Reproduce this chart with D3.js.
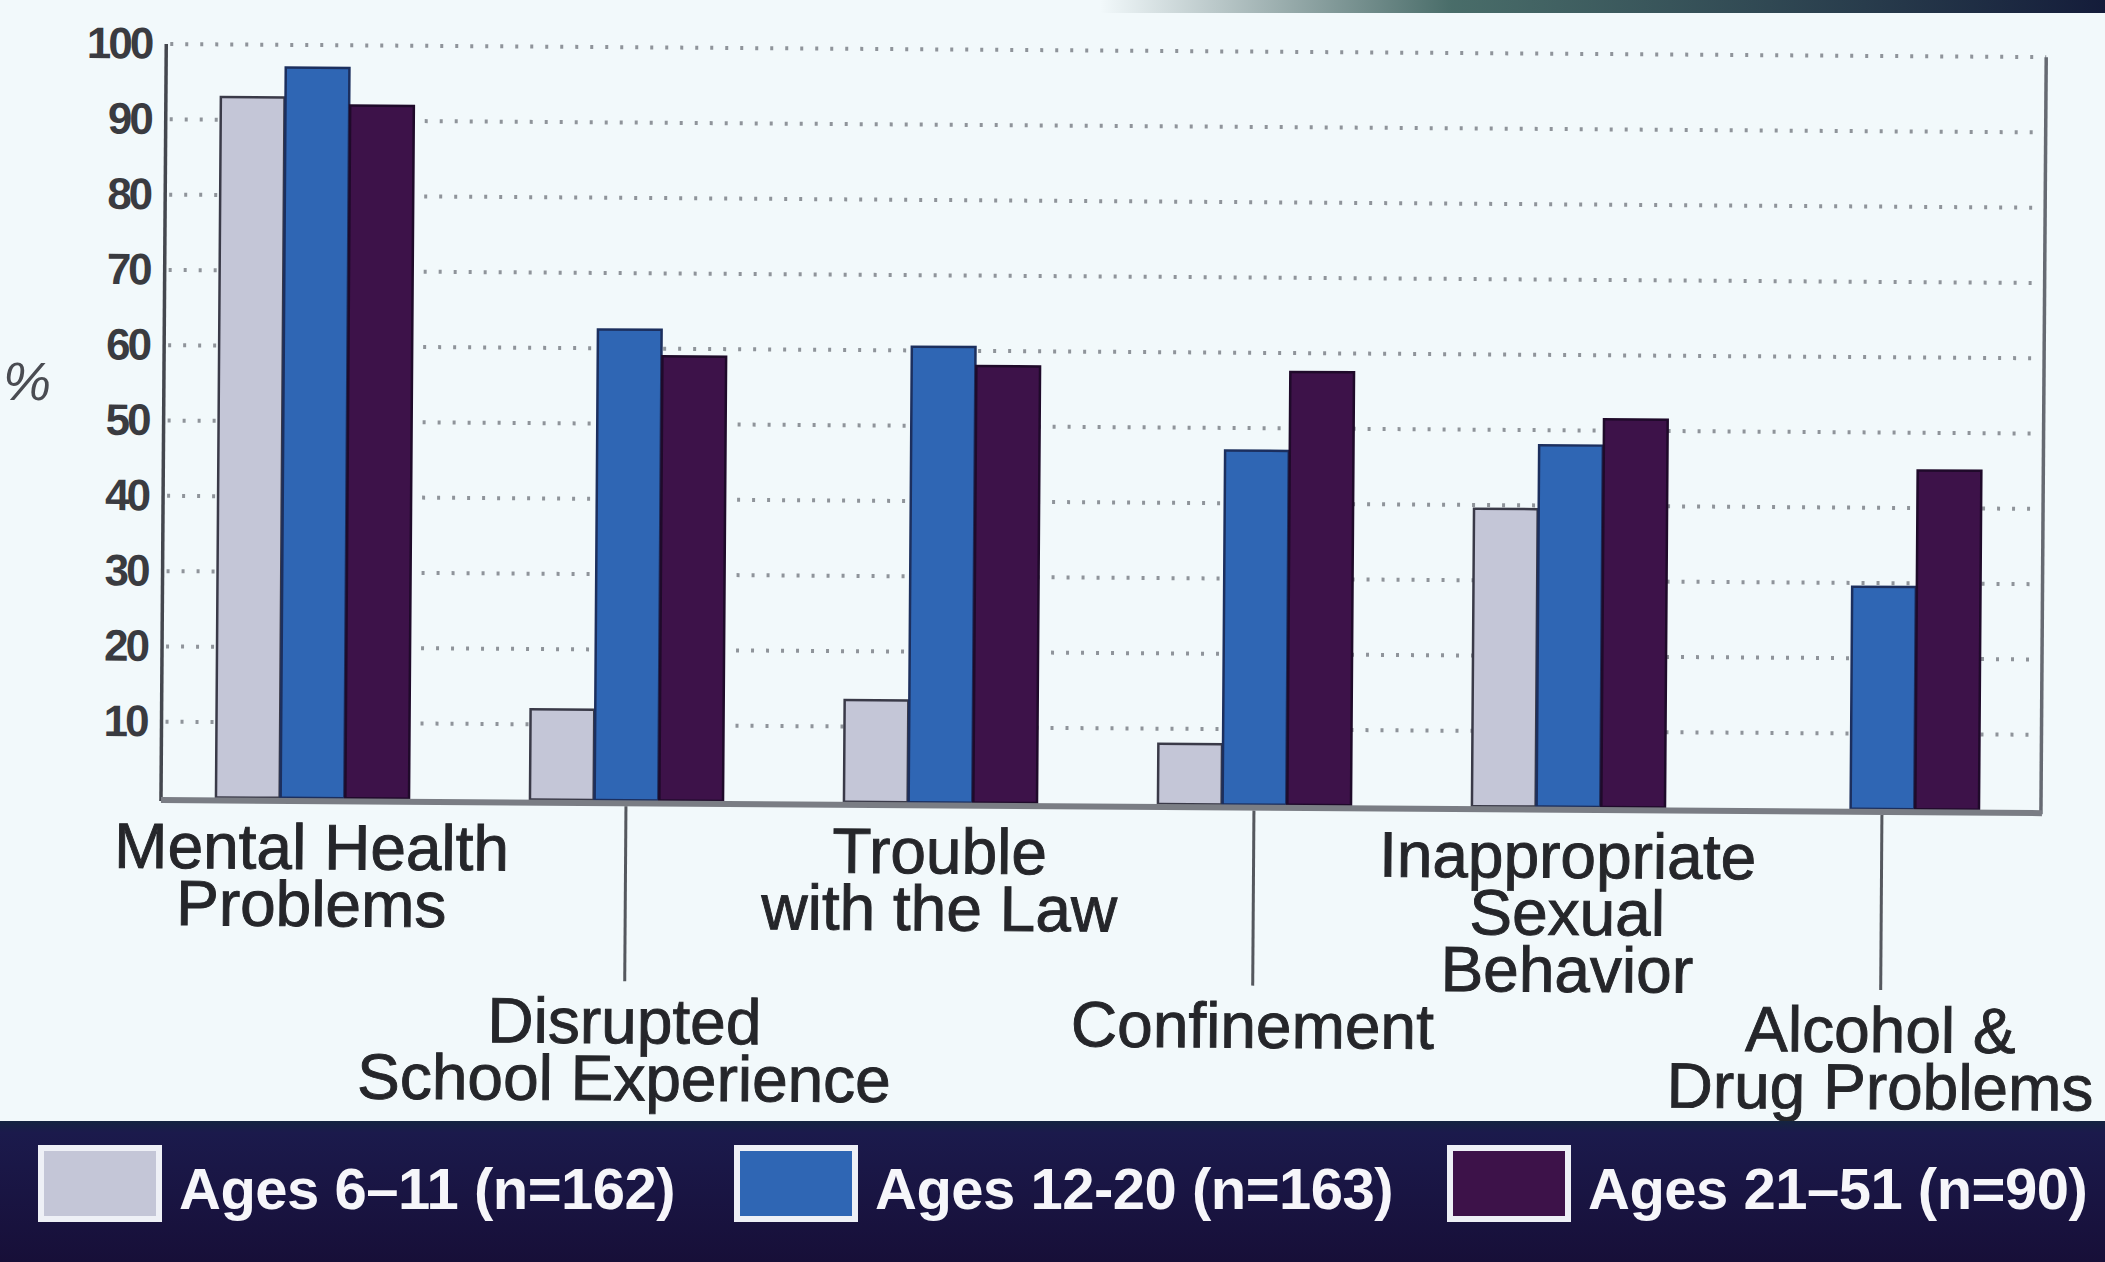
<!DOCTYPE html>
<html>
<head>
<meta charset="utf-8">
<script src="https://cdn.jsdelivr.net/npm/d3@7"></script>
<style>
  html, body { margin: 0; padding: 0; background: #f2f9fb; }
  svg { display: block; }
</style>
</head>
<body>
<svg id="chart" width="2105" height="1262"></svg>
<script>
// Problem areas by age group (percent of each group)
const categories = [
  ["Mental Health", "Problems"],
  ["Disrupted", "School Experience"],
  ["Trouble", "with the Law"],
  ["Confinement"],
  ["Inappropriate", "Sexual", "Behavior"],
  ["Alcohol &", "Drug Problems"]
];
const seriesNames = ["Ages 6\u201311 (n=162)", "Ages 12-20 (n=163)", "Ages 21\u201351 (n=90)"];
const ages6to11  = [93, 12, 13.5, 8, 39.5, 0];
const ages12to20 = [97, 62.5, 60.5, 47, 48, 29.5];
const ages21to51 = [92, 59, 58, 57.5, 51.5, 45];
const yTicks = [10, 20, 30, 40, 50, 60, 70, 80, 90, 100];

const seriesValues = [ages6to11, ages12to20, ages21to51];
const fills   = ["#c4c6d7", "#2f66b4", "#3d1249"];
const strokes = ["#3a3a48", "#1c2f5e", "#1f0a2a"];

const W = 2105, H = 1262;
const svg = d3.select("#chart");

// slide background and top edge shading
const defs = svg.append("defs");
const topGrad = defs.append("linearGradient").attr("id", "topEdge");
topGrad.append("stop").attr("offset", "0%").attr("stop-color", "#1d3a3a").attr("stop-opacity", 0);
topGrad.append("stop").attr("offset", "35%").attr("stop-color", "#1f4a45").attr("stop-opacity", 0.8);
topGrad.append("stop").attr("offset", "100%").attr("stop-color", "#141c3a").attr("stop-opacity", 1);
svg.append("rect").attr("width", W).attr("height", H).attr("fill", "#f2f9fb");
svg.append("rect").attr("x", 1100).attr("y", 0).attr("width", W - 1100).attr("height", 13)
  .attr("fill", "url(#topEdge)");

// chart group (slightly tilted as on the slide)
const x0 = 161, yBase = 797;
const g = svg.append("g").attr("transform", `rotate(0.4, ${x0}, ${yBase})`);

const x = d3.scaleBand()
  .domain(d3.range(categories.length))
  .range([155, 2039])
  .paddingInner(0.382)
  .paddingOuter(0.191);
const xSub = d3.scaleBand().domain(d3.range(seriesNames.length)).range([0, x.bandwidth()]);
const y = d3.scaleLinear().domain([0, 100]).range([yBase, 44]);
const xRight = 2041;

// dotted gridlines
g.append("g").selectAll("line").data(yTicks).join("line")
  .attr("x1", x0 + 4).attr("x2", xRight)
  .attr("y1", d => y(d)).attr("y2", d => y(d))
  .attr("stroke", "#8f949a").attr("stroke-width", 4)
  .attr("stroke-dasharray", "3 12");

// y axis labels via d3 axis
const yAxis = d3.axisLeft(y).tickValues(yTicks).tickSize(0).tickPadding(15);
const ya = g.append("g").attr("transform", `translate(${x0},0)`).call(yAxis);
ya.select(".domain").remove();
ya.selectAll("text")
  .attr("font-family", "Liberation Sans, Arial, sans-serif")
  .attr("font-size", 44).attr("font-weight", "bold")
  .attr("letter-spacing", -3)
  .attr("fill", "#3a3b40");

// bars
const groups = g.append("g").selectAll("g").data(categories).join("g")
  .attr("transform", (d, i) => `translate(${x(i)},0)`);
groups.selectAll("rect")
  .data((d, i) => seriesValues.map((s, k) => ({ k, v: s[i] })).filter(e => e.v > 0))
  .join("rect")
  .attr("x", e => xSub(e.k) + 1)
  .attr("width", xSub.bandwidth() - 1)
  .attr("y", e => y(e.v))
  .attr("height", e => yBase - y(e.v))
  .attr("fill", e => fills[e.k])
  .attr("stroke", e => strokes[e.k])
  .attr("stroke-width", 2.5);

// frame: left axis, right edge, thick baseline
g.append("line").attr("x1", x0).attr("x2", x0).attr("y1", y(100)).attr("y2", yBase + 4)
  .attr("stroke", "#44474e").attr("stroke-width", 3.5);
g.append("line").attr("x1", xRight).attr("x2", xRight).attr("y1", y(100)).attr("y2", yBase + 4)
  .attr("stroke", "#666a72").attr("stroke-width", 3.5);
g.append("line").attr("x1", x0).attr("x2", xRight + 1).attr("y1", yBase + 3).attr("y2", yBase + 3)
  .attr("stroke", "#7a7d84").attr("stroke-width", 6);

// category labels: alternating rows, lower row with leader lines
const lineH = 57;
const labels = g.append("g")
  .attr("font-family", "Liberation Sans, Arial, sans-serif")
  .attr("font-size", 64)
  .attr("fill", "#25262a")
  .attr("stroke", "#25262a")
  .attr("stroke-width", 0.9)
  .attr("text-anchor", "middle");
categories.forEach((lines, i) => {
  const cx = x(i) + x.bandwidth() / 2;
  const top = i % 2 === 0 ? 868 : 1040;
  if (i % 2 === 1) {
    labels.append("line").attr("x1", cx).attr("x2", cx)
      .attr("y1", yBase + 6).attr("y2", 978)
      .attr("stroke", "#55585e").attr("stroke-width", 3);
  }
  const t = labels.append("text");
  lines.forEach((ln, j) => {
    t.append("tspan").attr("x", cx).attr("y", top + j * lineH).text(ln);
  });
});

// "%" axis title
svg.append("text").attr("x", 27).attr("y", 400)
  .attr("text-anchor", "middle")
  .attr("font-family", "Liberation Sans, Arial, sans-serif")
  .attr("font-size", 54).attr("fill", "#4a4c52")
  .attr("font-style", "italic")
  .text("%");

// legend band
const bandGrad = defs.append("linearGradient").attr("id", "band").attr("x1", 0).attr("x2", 0).attr("y1", 0).attr("y2", 1);
bandGrad.append("stop").attr("offset", "0%").attr("stop-color", "#142440");
bandGrad.append("stop").attr("offset", "8%").attr("stop-color", "#1b1a4c");
bandGrad.append("stop").attr("offset", "100%").attr("stop-color", "#170f38");
svg.append("rect").attr("x", 0).attr("y", 1121).attr("width", W).attr("height", H - 1121)
  .attr("fill", "url(#band)");

const legendX = [38, 734, 1447];
const legendTextX = [179, 875, 1588];
const legend = svg.append("g");
seriesNames.forEach((name, k) => {
  legend.append("rect")
    .attr("x", legendX[k] + 3).attr("y", 1148)
    .attr("width", 118).attr("height", 71)
    .attr("fill", fills[k])
    .attr("stroke", "#eef0f6").attr("stroke-width", 6);
  legend.append("text")
    .attr("x", legendTextX[k]).attr("y", 1209)
    .attr("font-family", "Liberation Sans, Arial, sans-serif")
    .attr("font-size", 58).attr("font-weight", "bold")
    .attr("letter-spacing", -0.5)
    .attr("fill", "#f6f6fa")
    .text(name);
});
</script>
</body>
</html>
